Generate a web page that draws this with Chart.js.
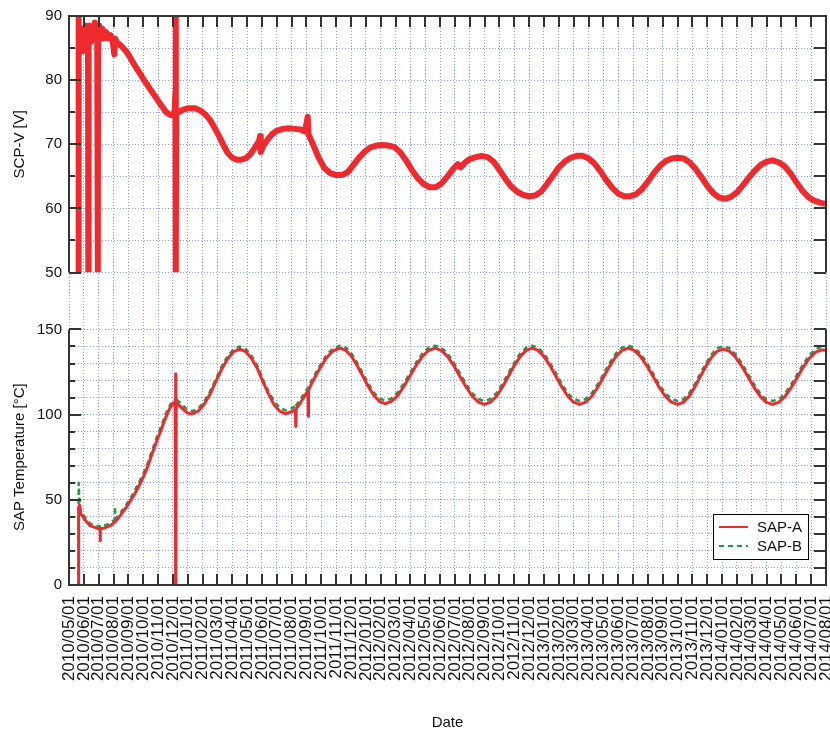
<!DOCTYPE html>
<html>
<head>
<meta charset="utf-8">
<title>SCP-V / SAP Temperature</title>
<script src="https://cdn.jsdelivr.net/npm/chart.js@4.4.0/dist/chart.umd.min.js"></script>
<style>
  body { margin: 0; background: #fff; }
  #wrap { width: 830px; height: 732px; }
</style>
</head>
<body>
<div id="wrap"><canvas id="chart" width="830" height="732"></canvas></div>
<script>
// Tick labels, one per month (x value = months since 2010/05/01)
const monthLabels = [
    '2010/05/01', '2010/06/01', '2010/07/01', '2010/08/01', '2010/09/01', '2010/10/01', '2010/11/01', '2010/12/01',
    '2011/01/01', '2011/02/01', '2011/03/01', '2011/04/01', '2011/05/01', '2011/06/01', '2011/07/01', '2011/08/01',
    '2011/09/01', '2011/10/01', '2011/11/01', '2011/12/01',
    '2012/01/01', '2012/02/01', '2012/03/01', '2012/04/01', '2012/05/01', '2012/06/01', '2012/07/01', '2012/08/01',
    '2012/09/01', '2012/10/01', '2012/11/01', '2012/12/01',
    '2013/01/01', '2013/02/01', '2013/03/01', '2013/04/01', '2013/05/01', '2013/06/01', '2013/07/01', '2013/08/01',
    '2013/09/01', '2013/10/01', '2013/11/01', '2013/12/01',
    '2014/01/01', '2014/02/01', '2014/03/01', '2014/04/01', '2014/05/01', '2014/06/01', '2014/07/01', '2014/08/01'
];

// SCP-V [V] (top panel)
const scpMonths = [
    0.62, 0.64, 0.66, 0.72, 0.78, 0.85, 0.92, 1.00, 1.08, 1.15, 1.22, 1.28, 1.30, 1.32, 1.40, 1.50,
    1.58, 1.66, 1.74, 1.82, 1.90, 1.94, 1.96, 2.05, 2.15, 2.25, 2.35, 2.50, 2.65, 2.80, 2.95, 3.05,
    3.10, 3.25, 3.45, 3.65, 3.85, 4.05, 4.25, 4.45, 4.65, 4.85, 5.05, 5.30, 5.55, 5.80, 6.05, 6.30,
    6.55, 6.80, 7.00, 7.12, 7.17, 7.19, 7.20, 7.22, 7.40, 7.70, 8.00, 8.50, 8.90, 9.20, 9.50, 9.80,
    10.10, 10.40, 10.70, 11.00, 11.30, 11.60, 11.90, 12.20, 12.50, 12.80, 12.88, 12.92, 13.10, 13.40,
    13.70, 14.00, 14.40, 14.80, 15.20, 15.60, 15.90, 16.08, 16.12, 16.40, 16.80, 17.20, 17.60, 18.00,
    18.40, 18.80, 19.10, 19.50, 19.90, 20.30, 20.70, 21.10, 21.50, 21.90, 22.30, 22.70, 23.10, 23.50,
    23.90, 24.30, 24.70, 25.10, 25.50, 25.90, 26.20, 26.40, 26.70, 27.00, 27.40, 27.80, 28.20, 28.60,
    29.00, 29.40, 29.80, 30.20, 30.60, 31.00, 31.40, 31.80, 32.20, 32.60, 33.00, 33.40, 33.80, 34.20,
    34.60, 35.00, 35.40, 35.80, 36.20, 36.60, 37.00, 37.40, 37.80, 38.20, 38.60, 39.00, 39.40, 39.80,
    40.20, 40.60, 41.00, 41.40, 41.80, 42.20, 42.60, 43.00, 43.40, 43.80, 44.20, 44.60, 45.00, 45.40,
    45.80, 46.20, 46.60, 47.00, 47.40, 47.80, 48.20, 48.60, 49.00, 49.40, 49.80, 50.20, 50.60, 50.95
];
const scpVolts = [
    50, 90, 84, 87, 85, 88, 84.5, 87.5, 86, 88.5, 85.5, 87, 50, 86.5, 88.5, 86,
    88, 86.5, 89, 87, 88, 50, 87, 88.5, 86.5, 88, 86.5, 87.5, 86.5, 87, 86, 84,
    86.5, 85.8, 85.5, 85, 84.5, 83.8, 83, 82.2, 81.5, 80.8, 80, 79.2, 78.3, 77.5, 76.6, 75.8,
    75, 74.6, 74.5, 75.3, 78, 90, 50, 75, 75, 75.4, 75.6, 75.6, 75.2, 74.6, 73.8, 72.6,
    71.3, 69.9, 68.6, 67.9, 67.6, 67.6, 67.8, 68.4, 69.4, 70.5, 71.3, 68.8, 69.8, 70.8,
    71.6, 72.1, 72.4, 72.5, 72.4, 72.3, 72.0, 74.3, 71.6, 70.2, 68.0, 66.3, 65.5, 65.2,
    65.2, 65.7, 66.6, 67.8, 68.8, 69.5, 69.8, 69.9, 69.8, 69.6, 68.8, 67.5, 66.0, 64.7,
    63.8, 63.3, 63.3, 63.9, 65.0, 66.2, 66.9, 66.4, 67.2, 67.7, 68.0, 68.2, 68.0, 67.3,
    66.0, 64.6, 63.4, 62.6, 62.1, 61.9, 62.0, 62.6, 63.8, 65.1, 66.4, 67.3, 67.9, 68.2,
    68.2, 67.8, 67.0, 65.8, 64.4, 63.2, 62.3, 61.9, 61.9, 62.2, 63.0, 64.2, 65.5, 66.6,
    67.4, 67.8, 67.9, 67.8, 67.2, 66.2, 64.9, 63.5, 62.4, 61.7, 61.5, 61.8, 62.5, 63.6,
    64.8, 65.9, 66.8, 67.3, 67.5, 67.2, 66.6, 65.5, 64.1, 62.8, 61.8, 61.2, 60.9, 60.7
];

// SAP temperature [°C] (bottom panel)
const sapMonths = [
    0.64, 0.65, 0.70, 0.78, 0.90, 1.10, 1.30, 1.42, 1.70, 2.00, 2.09, 2.10, 2.12, 2.40, 2.70, 2.96,
    3.08, 3.10, 3.12, 3.30, 3.60, 3.85, 4.11, 4.40, 4.70, 4.99, 5.30, 5.60, 5.93, 6.20, 6.50, 6.80,
    7.00, 7.15, 7.17, 7.19, 7.20, 7.22, 7.30, 7.60, 7.90, 8.15, 8.30, 8.70, 9.10, 9.50, 9.90, 10.30,
    10.70, 11.10, 11.50, 11.90, 12.30, 12.70, 13.05, 13.45, 13.80, 14.20, 14.60, 15.06, 15.25, 15.28,
    15.31, 15.52, 15.97, 16.10, 16.12, 16.14, 16.43, 16.89, 17.35, 17.80, 18.26, 18.64, 19.02, 19.40,
    19.78, 20.16, 20.54, 20.92, 21.30, 21.72, 22.14, 22.56, 22.98, 23.40, 23.82, 24.24, 24.66, 25.08,
    25.50, 25.92, 26.33, 26.75, 27.17, 27.58, 28.00, 28.40, 28.80, 29.20, 29.60, 30.00, 30.40, 30.80,
    31.20, 31.60, 32.00, 32.40, 32.80, 33.20, 33.60, 34.00, 34.40, 34.81, 35.22, 35.63, 36.04, 36.44,
    36.85, 37.26, 37.67, 38.09, 38.50, 38.92, 39.34, 39.75, 40.17, 40.58, 41.00, 41.38, 41.77, 42.15,
    42.53, 42.92, 43.30, 43.68, 44.07, 44.49, 44.90, 45.32, 45.74, 46.15, 46.57, 46.98, 47.40, 47.82,
    48.24, 48.65, 49.07, 49.49, 49.90, 50.32, 50.74, 50.95
];
const sapA = [
    0, 45, 47, 42, 40.5, 38, 36, 34.7, 34, 33, 33, 26, 33, 33.5, 34.5, 36,
    37, 37, 37.5, 39, 42.5, 45.5, 49, 53, 58, 63, 69.5, 77, 85, 91, 98, 104,
    106.5, 107.5, 86, 124, 0, 106.5, 106.5, 104, 101.5, 100.5, 100.5, 102, 106, 112, 119.5, 127,
    133, 137, 138.5, 137, 133, 127, 119.5, 112, 106, 102, 100.5, 102, 103, 93,
    103.5, 106, 112.4, 114, 99, 114.5, 119.8, 127, 133.4, 137.5, 139, 137.8, 134.3, 129,
    122.8, 116.5, 111.2, 107.7, 106.5, 107.7, 111.2, 116.5, 122.8, 129, 134.3, 137.8, 139, 137.7,
    134.2, 128.8, 122.5, 116.2, 110.8, 107.3, 106, 107.3, 110.8, 116.2, 122.5, 128.8, 134.2, 137.7,
    139, 137.7, 134.2, 128.8, 122.5, 116.2, 110.8, 107.3, 106, 107.3, 110.8, 116.2, 122.5, 128.8,
    134.2, 137.7, 139, 137.7, 134.2, 128.8, 122.5, 116.2, 110.8, 107.3, 106, 107.2, 110.7, 116,
    122.3, 128.5, 133.8, 137.3, 138.5, 137.3, 133.8, 128.5, 122.3, 116, 110.7, 107.2, 106, 107.2,
    110.7, 115.8, 122, 128.2, 133.4, 136.8, 138, 137.8
];
const sapB = [
    0, 60, 50, 44, 42, 39.5, 37.5, 36, 35, 34.5, 34.5, 34, 34.5, 35, 36, 37.5,
    38.5, 46, 39, 40.5, 44, 47, 50.5, 55, 60, 65, 71.5, 79, 87, 93, 100, 105.5,
    108, 109, 108, 110, 0, 108, 108.5, 106, 103.5, 102.5, 102, 103.5, 107.5, 113.5, 121, 128.5,
    134.5, 138.5, 140, 138.5, 134.5, 128.5, 121, 113.5, 108, 104, 102.5, 104, 105, 104,
    105.5, 108, 114, 116, 116, 116.5, 121.5, 128.5, 135, 139, 140.5, 139.5, 136, 130.7,
    124.5, 118.3, 113, 109.5, 108.3, 109.5, 113, 118.3, 124.5, 130.7, 136, 139.5, 140.5, 139.3,
    135.9, 130.5, 124.3, 118, 112.6, 109.2, 108, 109.2, 112.6, 118, 124.3, 130.5, 135.9, 139.3,
    140.5, 139.3, 135.9, 130.5, 124.3, 118, 112.6, 109.2, 108, 109.2, 112.6, 118, 124.3, 130.5,
    135.9, 139.3, 140.5, 139.3, 135.9, 130.5, 124.3, 118, 112.6, 109.2, 108, 109, 112.5, 117.8,
    124, 130.2, 135.5, 139, 140.2, 139, 135.5, 130.2, 124, 117.8, 112.5, 109, 108, 109,
    112.5, 117.6, 123.8, 130, 135.2, 138.6, 139.8, 139.6
];

const FONT = "'Liberation Sans', Arial, Helvetica, sans-serif";
const TEXT_COLOR = '#111111';
const AXIS_COLOR = '#333333';
const GRID_COLOR = 'rgba(85, 105, 200, 0.65)';
const RED = '#ee2a2e';
const GREEN = '#22994a';

function toPoints(xs, ys) {
    return xs.map((x, i) => ({ x: x, y: ys[i] }));
}

// Clip each dataset to its own panel
const panelClip = {
    id: 'panelClip',
    beforeDatasetDraw(chart, args) {
        const s = chart.scales[args.meta.yAxisID];
        const area = chart.chartArea;
        chart.ctx.save();
        chart.ctx.beginPath();
        chart.ctx.rect(area.left, s.top, area.right - area.left, s.bottom - s.top);
        chart.ctx.clip();
    },
    afterDatasetDraw(chart) {
        chart.ctx.restore();
    }
};

// Panel frames, inward ticks and the legend box
const panelFrame = {
    id: 'panelFrame',
    afterDraw(chart) {
        const ctx = chart.ctx;
        const xs = chart.scales.x;
        const L = xs.left, R = xs.right;
        const panels = [
            { s: chart.scales.yTop, edge: 'top', major: 10 },
            { s: chart.scales.yBot, edge: 'bottom', major: 50 }
        ];

        ctx.save();
        ctx.strokeStyle = AXIS_COLOR;
        ctx.lineWidth = 2;
        panels.forEach(p => {
            const s = p.s;
            const yEdge = p.edge === 'top' ? s.top : s.bottom;
            const dir = p.edge === 'top' ? 1 : -1;
            ctx.beginPath();
            ctx.moveTo(L, s.top); ctx.lineTo(L, s.bottom);
            ctx.moveTo(R, s.top); ctx.lineTo(R, s.bottom);
            ctx.moveTo(L - 1, yEdge); ctx.lineTo(R + 1, yEdge);
            s.ticks.forEach(t => {
                const y = Math.round(s.getPixelForValue(t.value));
                const len = t.value % p.major === 0 ? 12 : 6;
                ctx.moveTo(L, y); ctx.lineTo(L + len, y);
                ctx.moveTo(R, y); ctx.lineTo(R - 12, y);
            });
            xs.ticks.forEach(t => {
                const x = Math.round(xs.getPixelForValue(t.value));
                ctx.moveTo(x, yEdge); ctx.lineTo(x, yEdge + dir * 11);
            });
            ctx.stroke();
        });

        // legend (SAP-A / SAP-B)
        const yb = chart.scales.yBot;
        const bw = 95, bh = 45;
        const bx = R - 18 - bw, by = yb.bottom - 26 - bh;
        ctx.fillStyle = '#ffffff';
        ctx.fillRect(bx, by, bw, bh);
        ctx.strokeStyle = '#000000';
        ctx.lineWidth = 1;
        ctx.strokeRect(bx + 0.5, by + 0.5, bw, bh);
        ctx.font = '15px ' + FONT;
        ctx.textBaseline = 'middle';
        ctx.textAlign = 'left';
        [chart.data.datasets[1], chart.data.datasets[2]].forEach((ds, i) => {
            const ly = by + 13 + i * 19;
            ctx.beginPath();
            ctx.strokeStyle = ds.borderColor;
            ctx.lineWidth = 2;
            ctx.setLineDash(ds.borderDash || []);
            ctx.moveTo(bx + 6, ly); ctx.lineTo(bx + 35, ly);
            ctx.stroke();
            ctx.setLineDash([]);
            ctx.fillStyle = TEXT_COLOR;
            ctx.fillText(ds.label, bx + 44, ly + 1);
        });
        ctx.restore();
    }
};

function gridAxis(extra) {
    return Object.assign({
        grid: { color: GRID_COLOR, lineWidth: 1, drawTicks: false },
        border: { display: false, dash: [1, 2] }
    }, extra);
}

new Chart(document.getElementById('chart'), {
    type: 'line',
    data: {
        datasets: [
            {
                label: 'SCP-V',
                data: toPoints(scpMonths, scpVolts),
                xAxisID: 'x', yAxisID: 'yTop',
                borderColor: RED, borderWidth: 6,
                borderJoinStyle: 'round',
                pointRadius: 0, tension: 0
            },
            {
                label: 'SAP-A',
                data: toPoints(sapMonths, sapA),
                xAxisID: 'x', yAxisID: 'yBot',
                borderColor: RED, borderWidth: 3,
                borderJoinStyle: 'round',
                pointRadius: 0, tension: 0
            },
            {
                label: 'SAP-B',
                data: toPoints(sapMonths, sapB),
                xAxisID: 'x', yAxisID: 'yBot',
                borderColor: GREEN, borderWidth: 2.5,
                borderDash: [5, 4],
                borderJoinStyle: 'round',
                pointRadius: 0, tension: 0
            }
        ]
    },
    options: {
        responsive: false,
        animation: false,
        devicePixelRatio: 1,
        layout: { padding: { top: 15, right: 4, left: 0, bottom: 0 } },
        plugins: { legend: { display: false }, tooltip: { enabled: false } },
        scales: {
            x: gridAxis({
                type: 'linear', position: 'bottom', min: 0, max: 51,
                afterBuildTicks: s => { s.ticks = monthLabels.map((_, i) => ({ value: i })); },
                afterFit: s => { s.height = 147; s.paddingLeft = 0; s.paddingRight = 0; },
                ticks: {
                    autoSkip: false, minRotation: 90, maxRotation: 90, padding: 11,
                    color: TEXT_COLOR, font: { family: FONT, size: 17 },
                    callback: v => monthLabels[v]
                },
                title: {
                    display: true, text: 'Date', color: TEXT_COLOR,
                    font: { family: FONT, size: 15 }, padding: { top: 0, bottom: 0 }
                }
            }),
            yTop: gridAxis({
                type: 'linear', position: 'left', stack: 'panels', stackWeight: 257, weight: 2,
                min: 50, max: 90,
                afterFit: s => { s.width = 69; },
                ticks: {
                    stepSize: 5, autoSkip: false, padding: 7, color: TEXT_COLOR,
                    font: { family: FONT, size: 15 },
                    callback: v => (v % 10 === 0 ? v : '')
                },
                title: {
                    display: true, text: 'SCP-V [V]', color: TEXT_COLOR,
                    font: { family: FONT, size: 15 }, padding: { top: 11, bottom: 0 }
                }
            }),
            yGap: {
                type: 'linear', position: 'left', stack: 'panels', stackWeight: 57, weight: 1,
                min: 0, max: 1,
                afterFit: s => { s.width = 69; },
                ticks: { display: false },
                grid: { display: false, drawTicks: false },
                border: { display: false }
            },
            yBot: gridAxis({
                type: 'linear', position: 'left', stack: 'panels', stackWeight: 256, weight: 0,
                min: 0, max: 150,
                afterFit: s => { s.width = 69; },
                ticks: {
                    stepSize: 10, autoSkip: false, padding: 7, color: TEXT_COLOR,
                    font: { family: FONT, size: 15 },
                    callback: v => (v % 50 === 0 ? v : '')
                },
                title: {
                    display: true, text: 'SAP Temperature [°C]', color: TEXT_COLOR,
                    font: { family: FONT, size: 15 }, padding: { top: 11, bottom: 0 }
                }
            })
        }
    },
    plugins: [panelClip, panelFrame]
});
</script>
</body>
</html>
